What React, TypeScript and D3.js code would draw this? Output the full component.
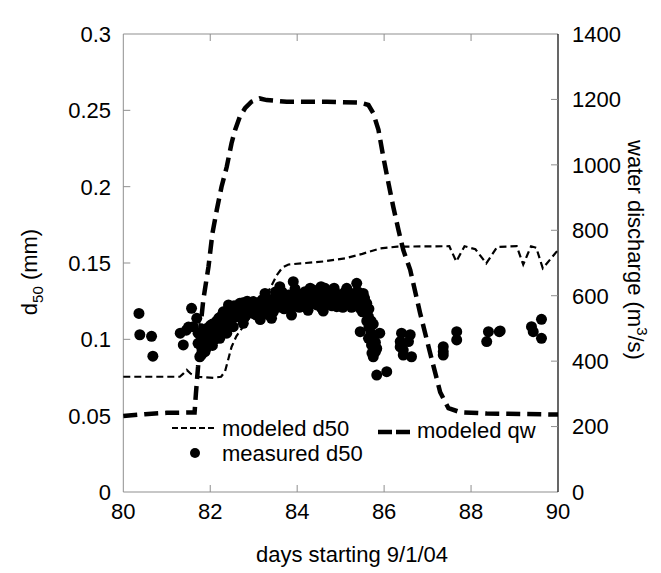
import React from "react";
import * as d3 from "d3";

// ---- data ----
const xTicks = [80, 82, 84, 86, 88, 90];
const yLeftTicks = [0, 0.05, 0.1, 0.15, 0.2, 0.25, 0.3];
const yLeftLabels = ["0", "0.05", "0.1", "0.15", "0.2", "0.25", "0.3"];
const yRightTicks = [0, 200, 400, 600, 800, 1000, 1200, 1400];

const qwDays = [80, 80.5, 81.0, 81.64, 81.67, 81.72, 81.76, 81.84, 81.96, 82.05, 82.15, 82.26, 82.38, 82.49, 82.57, 82.68, 82.8, 82.95, 83.14, 83.3, 83.76, 84.68, 85.45, 85.64, 85.75, 85.87, 85.98, 86.1, 86.21, 86.33, 86.44, 86.6, 86.83, 87.06, 87.29, 87.48, 87.75, 88.36, 89.9, 90];
const qwValues = [232, 238, 242, 243, 300, 383, 485, 587, 689, 790, 862, 933, 994, 1066, 1106, 1147, 1173, 1193, 1203, 1198, 1193, 1193, 1190, 1183, 1158, 1107, 1025, 944, 872, 801, 740, 679, 546, 424, 305, 256, 244, 240, 237, 237];

const d50Days = [80, 81.3, 81.38, 81.46, 81.55, 81.72, 82.07, 82.25, 82.34, 82.42, 82.49, 82.6, 83.0, 83.37, 83.53, 83.66, 83.8, 84.2, 84.6, 85.1, 85.5, 85.9, 86.3, 87.5, 87.66, 87.85, 88.1, 88.35, 88.6, 89.05, 89.2, 89.38, 89.5, 89.65, 90];
const d50Values = [0.0755, 0.0755, 0.0775, 0.080, 0.0775, 0.0755, 0.0748, 0.0755, 0.079, 0.0875, 0.095, 0.102, 0.118, 0.133, 0.142, 0.147, 0.149, 0.150, 0.151, 0.153, 0.156, 0.1595, 0.1607, 0.161, 0.151, 0.161, 0.159, 0.1498, 0.1605, 0.161, 0.149, 0.161, 0.160, 0.1465, 0.1585];

const measured: [number, number][] = [
  [80.36, 0.117], [80.38, 0.103], [80.65, 0.102], [80.68, 0.089],
  [81.31, 0.104], [81.38, 0.0963], [81.45, 0.106], [81.5, 0.108], [81.57, 0.1203], [81.61, 0.1083], [81.69, 0.1138],
  [81.72, 0.104], [81.72, 0.0974], [81.76, 0.0886], [81.88, 0.0919], [81.96, 0.0974], [82.0, 0.106], [82.07, 0.1028],
  [82.15, 0.1083], [82.22, 0.1007], [82.3, 0.1127], [82.38, 0.104], [82.42, 0.1225], [82.53, 0.1083], [82.61, 0.1148],
  [82.68, 0.1236], [82.76, 0.1105], [82.8, 0.1192], [82.99, 0.1247], [82.99, 0.117], [83.14, 0.1192], [83.26, 0.1301],
  [83.3, 0.1236], [83.41, 0.1138], [83.49, 0.1225], [83.6, 0.1345], [83.68, 0.128], [83.76, 0.1214], [83.87, 0.1159],
  [83.91, 0.1378], [83.99, 0.129], [84.1, 0.1247], [84.18, 0.1312], [84.29, 0.1258], [84.37, 0.1323], [84.45, 0.1225],
  [84.52, 0.128], [84.64, 0.1334], [84.72, 0.1247], [84.83, 0.129], [84.91, 0.1214], [85.02, 0.128], [85.14, 0.1334],
  [85.21, 0.1236], [85.29, 0.128], [85.37, 0.1367], [85.45, 0.1203], [85.52, 0.1301], [85.6, 0.1236], [85.64, 0.1148],
  [85.45, 0.105], [85.9, 0.104], [85.64, 0.1007], [85.71, 0.0963], [85.83, 0.094], [85.75, 0.0886], [85.83, 0.0766], [86.06, 0.0788],
  [81.8, 0.095], [81.8, 0.1], [81.8, 0.09], [81.85, 0.098], [81.85, 0.104], [81.9, 0.094], [81.9, 0.101], [81.9, 0.107],
  [81.95, 0.097], [81.95, 0.103], [82.0, 0.099], [82.0, 0.109], [82.05, 0.096], [82.05, 0.105], [82.05, 0.11],
  [82.1, 0.1], [82.1, 0.106], [82.15, 0.103], [82.15, 0.112], [82.2, 0.105], [82.2, 0.11], [82.2, 0.114],
  [82.25, 0.108], [82.25, 0.115], [82.3, 0.106], [82.3, 0.118], [82.35, 0.11], [82.35, 0.116], [82.4, 0.113], [82.4, 0.119],
  [82.45, 0.111], [82.45, 0.117], [82.5, 0.114], [82.5, 0.12], [82.55, 0.118], [82.55, 0.122], [82.6, 0.12], [82.6, 0.117],
  [82.65, 0.115], [82.65, 0.121], [82.7, 0.118], [82.7, 0.122], [82.75, 0.12], [82.75, 0.124], [82.8, 0.115], [82.8, 0.122],
  [82.85, 0.12], [82.85, 0.125], [82.9, 0.118], [82.9, 0.123], [82.95, 0.121], [83.0, 0.119], [83.0, 0.123],
  [83.05, 0.116], [83.05, 0.121], [83.1, 0.12], [83.1, 0.124], [83.2, 0.118], [83.2, 0.122], [83.2, 0.126],
  [83.3, 0.119], [83.3, 0.127], [83.35, 0.116], [83.35, 0.124], [83.45, 0.118], [83.45, 0.122], [83.5, 0.127], [83.5, 0.131],
  [83.55, 0.121], [83.55, 0.125], [83.65, 0.124], [83.65, 0.131], [83.7, 0.12], [83.7, 0.126], [83.8, 0.123], [83.8, 0.129],
  [83.85, 0.126], [83.85, 0.12], [83.95, 0.122], [83.95, 0.133], [84.0, 0.125], [84.0, 0.13], [84.05, 0.121], [84.05, 0.127],
  [84.15, 0.124], [84.15, 0.128], [84.2, 0.122], [84.2, 0.13], [84.25, 0.126], [84.3, 0.123], [84.3, 0.129],
  [84.4, 0.125], [84.4, 0.13], [84.5, 0.123], [84.5, 0.127], [84.55, 0.13], [84.55, 0.121], [84.6, 0.125], [84.6, 0.129],
  [84.7, 0.123], [84.7, 0.13], [84.75, 0.126], [84.8, 0.122], [84.8, 0.128], [84.9, 0.125], [84.9, 0.13], [84.95, 0.123],
  [85.0, 0.124], [85.0, 0.129], [85.05, 0.121], [85.05, 0.126], [85.1, 0.127], [85.1, 0.131], [85.2, 0.125], [85.2, 0.129],
  [85.25, 0.121], [85.3, 0.124], [85.3, 0.13], [85.35, 0.122], [85.35, 0.127], [85.4, 0.126], [85.4, 0.131],
  [85.5, 0.118], [85.5, 0.124], [85.55, 0.121], [85.55, 0.127], [85.6, 0.118], [85.6, 0.112], [85.65, 0.12], [85.65, 0.108],
  [85.7, 0.112], [85.7, 0.104], [85.75, 0.11], [85.75, 0.1], [85.8, 0.098], [85.8, 0.092], [85.72, 0.091],
  [84.3, 0.1335], [84.55, 0.1345], [84.85, 0.1335], [84.25, 0.119], [84.6, 0.1185], [83.15, 0.113],
  [86.4, 0.104], [86.6, 0.103], [86.37, 0.0985], [86.56, 0.0985], [86.44, 0.093], [86.44, 0.0897], [86.63, 0.0886], [86.37, 0.095],
  [87.36, 0.0952], [87.36, 0.0919], [87.36, 0.0897], [87.67, 0.105], [87.67, 0.0996],
  [88.4, 0.105], [88.36, 0.0985], [88.65, 0.105], [88.67, 0.1055],
  [89.39, 0.1083], [89.43, 0.105], [89.62, 0.1131], [89.62, 0.1007],
];

// ---- component ----
const W = 661;
const H = 573;
const FONT = "'Liberation Sans', Arial, Helvetica, sans-serif";
const GRAY = "#8f8f8f";

export default function App() {
  const x = d3.scaleLinear().domain([80, 90]).range([123.3, 558]);
  const yL = d3.scaleLinear().domain([0, 0.3]).range([492, 34]);
  const yR = d3.scaleLinear().domain([0, 1400]).range([492, 34]);

  const [x0, x1] = x.range();
  const [yb, yt] = yL.range();

  const qwLine = d3
    .line<number>()
    .x((_, i) => x(qwDays[i]))
    .y((v) => yR(v))(qwValues) as string;

  const d50Line = d3
    .line<number>()
    .x((_, i) => x(d50Days[i]))
    .y((v) => yL(v))(d50Values) as string;

  const tickLen = 7;

  return (
    <svg
      width={W}
      height={H}
      style={{ position: "absolute", left: 0, top: 0, background: "#fff" }}
      fontFamily={FONT}
    >
      <rect x={0} y={0} width={W} height={H} fill="#fff" />
      {/* frame */}
      <line x1={x0} y1={yt} x2={x1} y2={yt} stroke={GRAY} strokeWidth={1} />
      <line x1={x0} y1={yb} x2={x1} y2={yb} stroke={GRAY} strokeWidth={1} />
      <line x1={x0} y1={yt} x2={x0} y2={yb} stroke={GRAY} strokeWidth={1} />
      <line x1={x1} y1={yt} x2={x1} y2={yb} stroke="#000" strokeWidth={1.2} />

      {/* x ticks */}
      {xTicks.map((t) => (
        <g key={"xt" + t}>
          {t !== 80 && t !== 90 && (
            <>
              <line x1={x(t)} x2={x(t)} y1={yb} y2={yb - tickLen} stroke={GRAY} />
              <line x1={x(t)} x2={x(t)} y1={yt} y2={yt + tickLen} stroke={GRAY} />
            </>
          )}
          <text x={x(t)} y={yb + 27} textAnchor="middle" fontSize={22} fill="#000">
            {t}
          </text>
        </g>
      ))}

      {/* left ticks */}
      {yLeftTicks.map((t, i) => (
        <g key={"yl" + t}>
          {i > 0 && i < yLeftTicks.length - 1 && (
            <line x1={x0} x2={x0 + tickLen} y1={yL(t)} y2={yL(t)} stroke={GRAY} />
          )}
          <text x={111} y={yL(t)} dy="0.36em" textAnchor="end" fontSize={22} fill="#000">
            {yLeftLabels[i]}
          </text>
        </g>
      ))}

      {/* right ticks */}
      {yRightTicks.map((t, i) => (
        <g key={"yr" + t}>
          {i > 0 && i < yRightTicks.length - 1 && (
            <line x1={x1} x2={x1 - tickLen} y1={yR(t)} y2={yR(t)} stroke={GRAY} />
          )}
          <text x={572} y={yR(t)} dy="0.36em" textAnchor="start" fontSize={22} fill="#000">
            {t}
          </text>
        </g>
      ))}

      {/* modeled d50 */}
      <path d={d50Line} fill="none" stroke="#000" strokeWidth={2.2} strokeDasharray="7,4" />
      {/* modeled qw */}
      <path d={qwLine} fill="none" stroke="#000" strokeWidth={4.5} strokeDasharray="14,7" />
      {/* measured */}
      {measured.map(([d, v], i) => (
        <circle key={"m" + i} cx={x(d)} cy={yL(v)} r={5.5} fill="#000" />
      ))}

      {/* legend */}
      <line x1={172} x2={217} y1={428} y2={428} stroke="#000" strokeWidth={2.2} strokeDasharray="6,3" />
      <text x={222} y={436} fontSize={22} fill="#000">modeled d50</text>
      <circle cx={195} cy={453} r={5} fill="#000" />
      <text x={222} y={461} fontSize={22} fill="#000">measured d50</text>
      <line x1={378} x2={410} y1={432} y2={432} stroke="#000" strokeWidth={4.5} strokeDasharray="14,4" />
      <text x={417} y={438} fontSize={22} fill="#000">modeled qw</text>

      {/* axis titles */}
      <text x={352} y={562} textAnchor="middle" fontSize={22} fill="#000">
        days starting 9/1/04
      </text>
      <text transform="translate(37,272) rotate(-90)" textAnchor="middle" fontSize={22} fill="#000">
        d<tspan fontSize={15} dy={6}>50</tspan>
        <tspan dy={-6}> (mm)</tspan>
      </text>
      <text transform="translate(628,250) rotate(90)" textAnchor="middle" fontSize={22} fill="#000">
        water discharge (m<tspan fontSize={15} dy={-9}>3</tspan>
        <tspan dy={9}>/s)</tspan>
      </text>
    </svg>
  );
}
